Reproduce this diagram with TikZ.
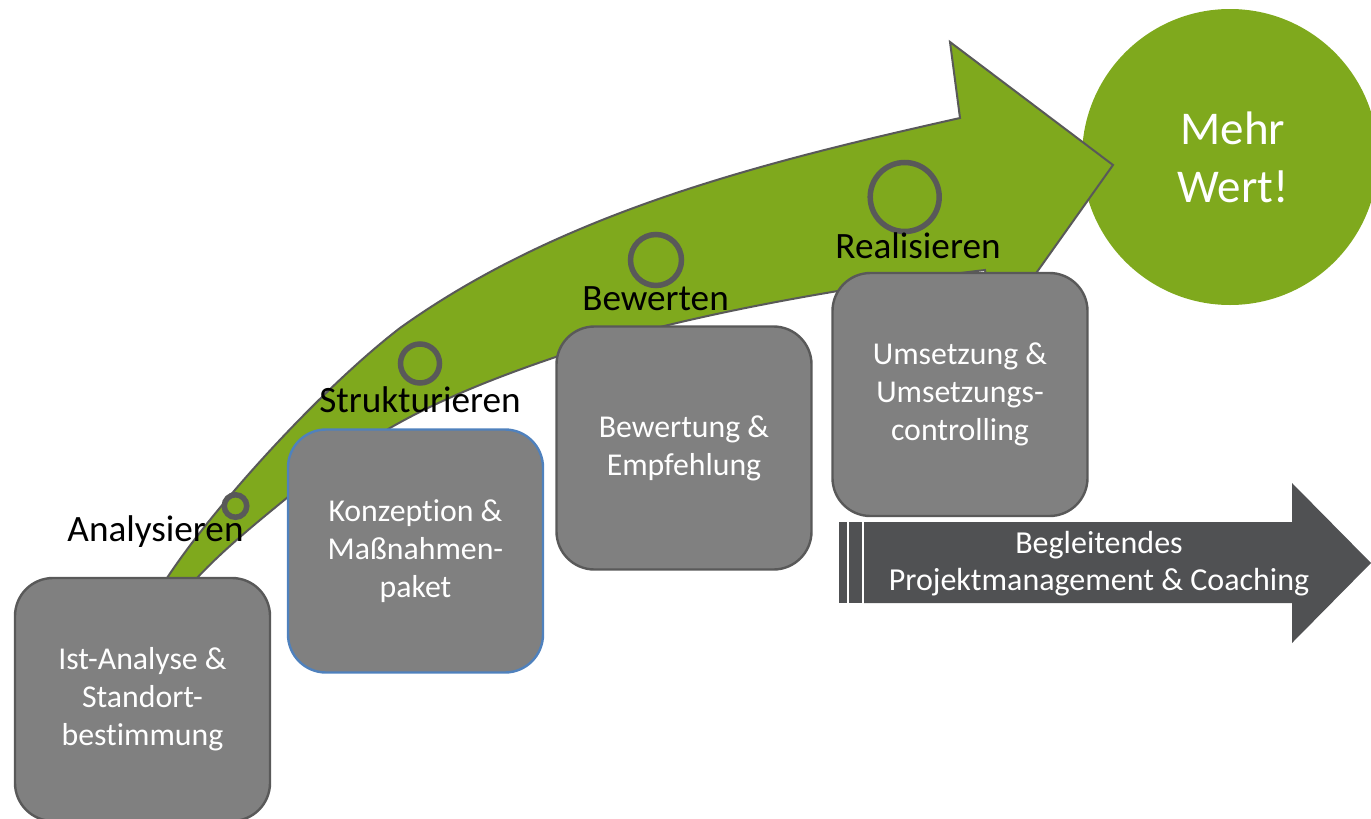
\documentclass[tikz,border=0pt]{standalone}
\usepackage{fontspec}
\setmainfont{Carlito}[Ligatures=NoCommon]
\definecolor{leaf}{RGB}{127,169,29}
\definecolor{edgegray}{RGB}{89,89,89}
\definecolor{boxgray}{RGB}{128,128,128}
\definecolor{boxblue}{RGB}{79,129,189}
\definecolor{darkarrow}{RGB}{80,81,83}
\tikzset{
  stepbox/.style={rectangle, rounded corners=19pt, fill=boxgray, draw=edgegray,
    line width=1.2pt, minimum width=127.5pt, minimum height=121.5pt, text=white,
    align=center, inner sep=0pt, font=\fontsize{15.9}{19}\selectfont},
  ring/.style={circle, draw=edgegray, line width=2.75pt, inner sep=0pt},
  stage/.style={anchor=base, text=black, inner sep=0pt, font=\fontsize{18.6}{22}\selectfont},
}
\begin{document}
\begin{tikzpicture}[x=0.5pt,y=-0.5pt]
\useasboundingbox (0,0) rectangle (1371,819);
\clip (0,0) rectangle (1371,819);
% goal circle
\node[circle, fill=leaf, minimum size=148pt, inner sep=0pt, text=white, align=center,
  font=\fontsize{23.5}{29}\selectfont] (goal) at (1230,157) {\hspace*{3pt}Mehr\\\hspace*{3pt}Wert!};
% big curved arrow
\path[draw=edgegray, line width=1pt, fill=leaf, line join=miter]
  (160,595) -- (167,578)
  .. controls (215,505) and (322,388) .. (400,328)
  .. controls (562,212) and (764,162) .. (960,118)
  -- (950,42) -- (1113,165) -- (995,331) -- (985,270)
  .. controls (834,288) and (660,320) .. (547,360)
  .. controls (480,383) and (430,405) .. (390,428)
  .. controls (350,452) and (320,470) .. (288,497)
  .. controls (260,520) and (225,548) .. (197,578)
  -- (188,595) -- cycle;
% rings
\node[ring, minimum size=11.25pt] (r1) at (235.5,506) {};
\node[ring, minimum size=19.5pt] (r2) at (420,363.5) {};
\node[ring, minimum size=25.5pt] (r3) at (656,260) {};
\node[ring, minimum size=34.5pt] (r4) at (904.7,197) {};
% stage labels
\node[stage] (l1) at (155.5,541) {Analysieren};
\node[stage] (l2) at (420,412) {Strukturieren};
\node[stage] (l3) at (655.5,310) {Bewerten};
\node[stage] (l4) at (918,258) {Realisieren};
% boxes
\node[stepbox] (b1) at (142.5,699.5) {Ist-Analyse \&\\Standort-\\bestimmung};
\node[stepbox, draw=boxblue] (b2) at (415.5,551) {Konzeption \&\\Maßnahmen-\\paket};
\node[stepbox] (b3) at (684,448) {Bewertung \&\\Empfehlung};
\node[stepbox] (b4) at (960,394.5) {Umsetzung \&\\Umsetzungs-\\controlling};
% striped arrow
\fill[darkarrow] (864,522) -- (1292,522) -- (1292,483) -- (1371,563) -- (1292,643)
  -- (1292,603) -- (864,603) -- cycle;
\fill[darkarrow] (839,522) rectangle (847,603);
\fill[darkarrow] (849,522) rectangle (862,603);
\node[text=white, align=center, inner sep=0pt, font=\fontsize{16}{18.5}\selectfont]
  (pm) at (1099,564) {Begleitendes\\Projektmanagement \& Coaching};
\end{tikzpicture}
\end{document}
